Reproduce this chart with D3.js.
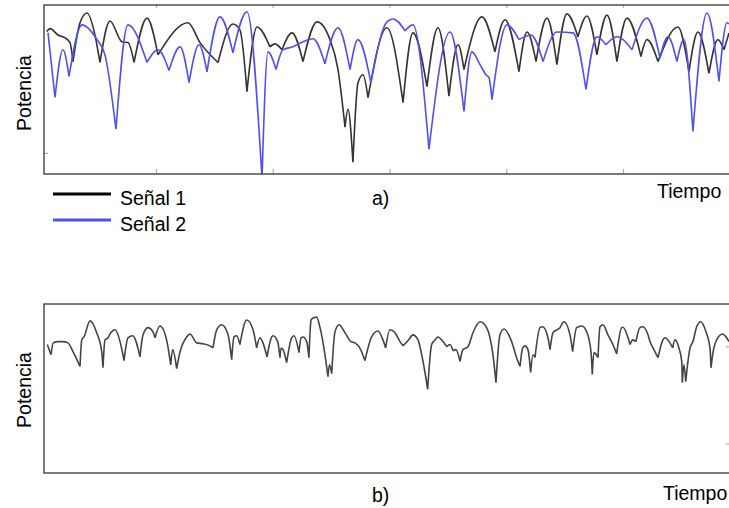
<!DOCTYPE html>
<html>
<head>
<meta charset="utf-8">
<script src="https://cdn.jsdelivr.net/npm/d3@7"></script>
<style>
  html, body { margin: 0; padding: 0; background: #fff; }
  svg { display: block; font-family: "Liberation Sans", Arial, sans-serif; }
</style>
</head>
<body>
<svg id="chart" width="729" height="508"></svg>
<script>
// ---- Data (time in samples, power in dB) ----
const timeTicks = [100, 200, 300, 400, 500];
const legendLabels = ["Señal 1", "Señal 2"];
const panelLabels = ["a)", "b)"];
const axisX = "Tiempo";
const axisY = "Potencia";

const senal1 = [
  [6.4,-6.3],[9.2,-5.6],[16.1,-7.1],[22.1,-7.8],[26.3,-8.9],[28.9,-13.4],[34.9,-4.2],[40.9,-1.9],
  [47.7,-7.1],[52.0,-13.6],[60.6,-3.8],[70.9,-8.7],[76.0,-8.9],[81.2,-13.6],[92.3,-3.1],[101.7,-11.8],
  [127.4,-4.2],[137.7,-8.9],[153.1,-13.6],[165.9,-4.5],[171.9,-5.9],[177.9,-20.5],[186.5,-5.2],
  [197.6,-9.9],[201.9,-9.2],[207.9,-10.6],[216.5,-6.6],[225.9,-13.4],[237.9,-4.0],[249.0,-8.2],
  [255.9,-15.3],[261.9,-28.9],[264.4,-24.7],[268.7,-37.2],[273.0,-18.4],[277.3,-16.5],[281.6,-21.9],
  [297.8,-5.4],[311.6,-23.1],[320.1,-6.6],[332.1,-19.3],[341.5,-5.4],[350.9,-21.6],[358.7,-9.4],
  [363.8,-15.3],[379.2,-2.8],[390.3,-11.1],[398.9,-3.5],[410.9,-15.8],[417.8,-6.4],[425.5,-13.4],
  [434.9,-3.1],[443.4,-14.1],[452.0,-2.1],[461.4,-7.5],[469.1,-2.6],[477.7,-11.8],[486.3,-2.4],
  [494.8,-13.4],[503.4,-3.1],[515.4,-12.2],[520.5,-8.2],[530.0,-13.4],[547.1,-5.2],[556.5,-15.8],
  [564.2,-6.4],[573.6,-16.2],[581.3,-8.2],[586.5,-10.6],[590.8,-6.6]
];

const senal2 = [
  [7.5,-6.6],[13.5,-21.9],[20.3,-10.6],[25.5,-16.9],[36.6,-4.7],[49.5,-8.2],[56.3,-11.8],[65.7,-29.4],
  [76.0,-4.7],[92.3,-13.6],[101.7,-10.6],[111.1,-15.5],[120.6,-9.9],[128.3,-18.4],[136.8,-9.4],
  [143.7,-15.8],[154.8,-2.8],[165.9,-11.3],[177.9,-1.6],[190.8,-41.0],[195.9,-11.1],[202.8,-15.3],
  [208.8,-10.6],[217.3,-9.9],[225.9,-8.7],[234.5,-8.0],[244.7,-13.9],[255.9,-5.4],[266.2,-15.3],
  [273.0,-8.2],[284.1,-18.4],[297.8,-4.0],[303.0,-3.3],[313.3,-6.1],[320.1,-4.7],[333.8,-34.1],
  [351.8,-6.4],[363.8,-25.2],[370.6,-11.1],[377.5,-14.1],[382.6,-16.5],[385.2,-17.2],[387.8,-22.4],
  [400.6,-4.7],[410.9,-8.2],[421.2,-7.1],[431.5,-13.4],[443.4,-6.4],[457.2,-6.6],[468.3,-20.0],
  [477.7,-7.5],[485.4,-9.4],[494.8,-7.5],[507.7,-10.6],[520.5,-3.1],[531.7,-12.5],[538.5,-7.5],
  [546.2,-13.4],[552.2,-8.2],[559.9,-29.9],[571.9,-1.9],[582.2,-18.1],[589.1,-4.2],[590.8,-4.5]
];

const senalB = [
  [6.9,-9.6],[10.1,-12.0],[12.0,-9.2],[16.3,-8.9],[20.3,-8.9],[24.6,-9.2],[28.9,-11.3],[34.9,-14.8],
  [36.4,-8.5],[38.3,-7.8],[43.5,-4.0],[49.2,-6.8],[53.5,-11.3],[54.6,-15.1],[56.3,-8.5],[58.9,-8.0],
  [61.2,-6.8],[64.9,-6.1],[69.2,-8.9],[72.6,-13.4],[76.0,-8.0],[80.0,-7.5],[86.3,-12.5],[88.9,-7.3],
  [93.1,-5.6],[97.4,-6.6],[99.1,-8.0],[103.4,-5.2],[109.4,-8.9],[112.6,-14.4],[114.3,-10.8],
  [117.7,-15.3],[120.6,-11.3],[126.3,-7.8],[129.1,-7.1],[134.9,-9.2],[140.3,-9.4],[146.2,-9.9],
  [148.8,-10.4],[152.0,-6.1],[156.3,-4.9],[161.7,-7.3],[164.8,-13.2],[166.8,-7.8],[169.1,-7.5],
  [171.9,-9.6],[177.7,-3.8],[183.1,-6.1],[186.2,-10.4],[189.1,-8.0],[191.6,-9.2],[195.1,-12.5],
  [199.1,-7.8],[200.2,-7.5],[204.2,-8.9],[206.2,-12.7],[207.1,-10.4],[208.8,-10.8],[211.9,-13.9],
  [216.2,-8.0],[218.2,-7.5],[222.5,-11.5],[224.2,-8.0],[225.9,-7.8],[229.1,-8.9],[231.0,-12.7],
  [232.8,-3.8],[234.5,-3.3],[237.6,-3.1],[240.5,-5.6],[244.7,-12.0],[247.3,-17.2],[248.6,-14.4],
  [250.5,-16.5],[253.3,-6.6],[256.7,-4.9],[261.9,-6.8],[267.0,-8.9],[270.4,-9.2],[273.9,-10.1],
  [279.0,-13.4],[284.7,-7.8],[290.1,-6.4],[294.4,-8.5],[296.7,-10.4],[300.4,-6.1],[304.7,-6.8],
  [309.0,-8.9],[311.6,-9.9],[315.8,-8.7],[320.1,-7.3],[324.4,-8.5],[328.7,-13.6],[332.7,-20.2],
  [336.1,-9.6],[339.0,-8.5],[341.5,-7.8],[345.8,-8.9],[349.0,-10.1],[351.8,-9.6],[354.4,-11.1],
  [356.9,-10.8],[360.4,-13.6],[362.9,-10.8],[367.2,-10.1],[371.5,-6.8],[377.5,-4.2],[383.2,-5.6],
  [386.1,-8.0],[388.6,-12.0],[391.2,-18.6],[394.6,-7.3],[398.1,-5.9],[404.6,-8.9],[408.9,-12.7],
  [411.8,-14.8],[414.1,-10.4],[416.0,-9.9],[418.6,-10.8],[420.9,-16.2],[422.9,-12.0],[424.6,-12.7],
  [428.9,-5.6],[431.2,-5.4],[435.7,-8.0],[437.5,-10.8],[440.0,-6.8],[446.0,-5.6],[449.4,-4.2],
  [454.6,-7.3],[456.9,-11.3],[460.3,-5.6],[464.6,-5.2],[468.9,-6.6],[472.6,-11.3],[473.7,-16.7],
  [475.1,-11.5],[478.6,-12.7],[480.3,-5.4],[482.8,-4.9],[487.1,-7.3],[491.4,-9.6],[494.6,-11.8],
  [498.9,-5.6],[500.0,-5.5],[504.3,-8.0],[506.0,-9.6],[508.5,-8.5],[511.1,-8.9],[514.5,-5.6],
  [516.9,-5.4],[521.4,-7.3],[523.1,-8.9],[525.7,-10.4],[530.0,-12.7],[534.2,-8.5],[536.0,-8.0],
  [540.2,-9.2],[542.6,-10.4],[544.5,-8.5],[547.9,-10.4],[550.3,-13.6],[550.8,-18.6],[552.2,-14.4],
  [553.7,-18.4],[557.4,-10.4],[559.9,-8.9],[563.1,-5.4],[566.5,-4.2],[571.1,-6.6],[574.5,-10.4],
  [575.4,-15.1],[576.8,-12.0],[580.2,-8.5],[585.4,-7.1],[588.8,-8.0],[590.8,-8.9]
];

const colorSenal1 = "#333333";
const colorSenal2 = "#5050f2";
const colorSenalB = "#444444";

// ---- Layout ----
const svg = d3.select("#chart");
const left = 44, frameRight = 760;
const x = d3.scaleLinear().domain([0, 600]).range([39.25, 739.75]);
const FS = 19.5;

const panels = [
  { top: 5,   bottom: 174, series: [{data: senal1, color: colorSenal1}, {data: senal2, color: colorSenal2}],
    xTicks: true, yTicksLeft: [-35], yTicksRight: [], label: panelLabels[0],
    labelY: 205, tiempoX: 657, tiempoY: 198, potY: 93 },
  { top: 304, bottom: 473, series: [{data: senalB, color: colorSenalB}],
    xTicks: false, yTicksLeft: [], yTicksRight: [-10, -33], label: panelLabels[1],
    labelY: 502, tiempoX: 663, tiempoY: 500, potY: 390 }
];

// split a series at its local minima so every fade is drawn as a sharp cusp
function fadePath(data, xs, ys) {
  const line = d3.line().x(d => xs(d[0])).y(d => ys(d[1])).curve(d3.curveMonotoneX);
  const segs = [];
  let cur = [data[0]];
  for (let i = 1; i < data.length; i++) {
    cur.push(data[i]);
    const isMin = i < data.length - 1 && data[i][1] < data[i-1][1] && data[i][1] < data[i+1][1];
    if (isMin) { segs.push(cur); cur = [data[i]]; }
  }
  if (cur.length > 1) segs.push(cur);
  return segs.map(s => line(s)).join("");
}

panels.forEach((p, idx) => {
  const y = d3.scaleLinear().domain([-40, 0]).range([p.bottom, p.top]);
  const g = svg.append("g");
  const clipId = "clip" + idx;
  svg.append("defs").append("clipPath").attr("id", clipId)
    .append("rect").attr("x", left).attr("y", p.top).attr("width", frameRight - left).attr("height", p.bottom - p.top);

  // tick marks (inward, light grey)
  if (p.xTicks) {
    const axB = d3.axisBottom(x).tickValues(timeTicks).tickSize(-5).tickFormat("");
    const axT = d3.axisTop(x).tickValues(timeTicks).tickSize(-3).tickFormat("");
    const gb = g.append("g").attr("transform", `translate(0,${p.bottom})`).call(axB);
    const gt = g.append("g").attr("transform", `translate(0,${p.top})`).call(axT);
    [gb, gt].forEach(a => { a.select(".domain").remove(); a.selectAll("line").attr("stroke", "#b0b0b0").attr("stroke-width", 1.2); });
  }
  if (p.yTicksLeft.length) {
    const ay = d3.axisLeft(y).tickValues(p.yTicksLeft).tickSize(-4).tickFormat("");
    const ga = g.append("g").attr("transform", `translate(${left},0)`).call(ay);
    ga.select(".domain").remove(); ga.selectAll("line").attr("stroke", "#b0b0b0").attr("stroke-width", 1.2);
  }
  if (p.yTicksRight.length) {
    const ay = d3.axisRight(y).tickValues(p.yTicksRight).tickSize(-4).tickFormat("");
    const ga = g.append("g").attr("transform", `translate(730,0)`).call(ay);
    ga.select(".domain").remove(); ga.selectAll("line").attr("stroke", "#b0b0b0").attr("stroke-width", 1.2);
  }

  // signals
  const lines = g.append("g").attr("clip-path", `url(#${clipId})`);
  p.series.forEach(s => {
    lines.append("path")
      .attr("d", fadePath(s.data, x, y))
      .attr("fill", "none")
      .attr("stroke", s.color)
      .attr("stroke-width", 1.6)
      .attr("stroke-linejoin", "round");
  });

  // frame
  g.append("rect").attr("x", left).attr("y", p.top).attr("width", frameRight - left).attr("height", p.bottom - p.top)
    .attr("fill", "none").attr("stroke", "#333").attr("stroke-width", 1.3);

  // labels
  g.append("text").attr("transform", `translate(31,${p.potY}) rotate(-90)`)
    .attr("text-anchor", "middle").attr("font-size", FS).attr("fill", "#000").text(axisY);
  g.append("text").attr("x", p.tiempoX).attr("y", p.tiempoY).attr("font-size", FS).attr("fill", "#000").text(axisX);
  g.append("text").attr("x", 372).attr("y", p.labelY).attr("font-size", FS).attr("fill", "#000").text(p.label);
});

// legend
const legendColors = [ "#000000", colorSenal2 ];
const lg = svg.append("g");
legendLabels.forEach((lab, i) => {
  const ly = 194 + i * 26;
  lg.append("line").attr("x1", 53).attr("x2", 111).attr("y1", ly).attr("y2", ly)
    .attr("stroke", legendColors[i]).attr("stroke-width", 3);
  lg.append("text").attr("x", 120).attr("y", ly + 11).attr("font-size", FS).attr("fill", "#000").text(lab);
});
</script>
</body>
</html>
